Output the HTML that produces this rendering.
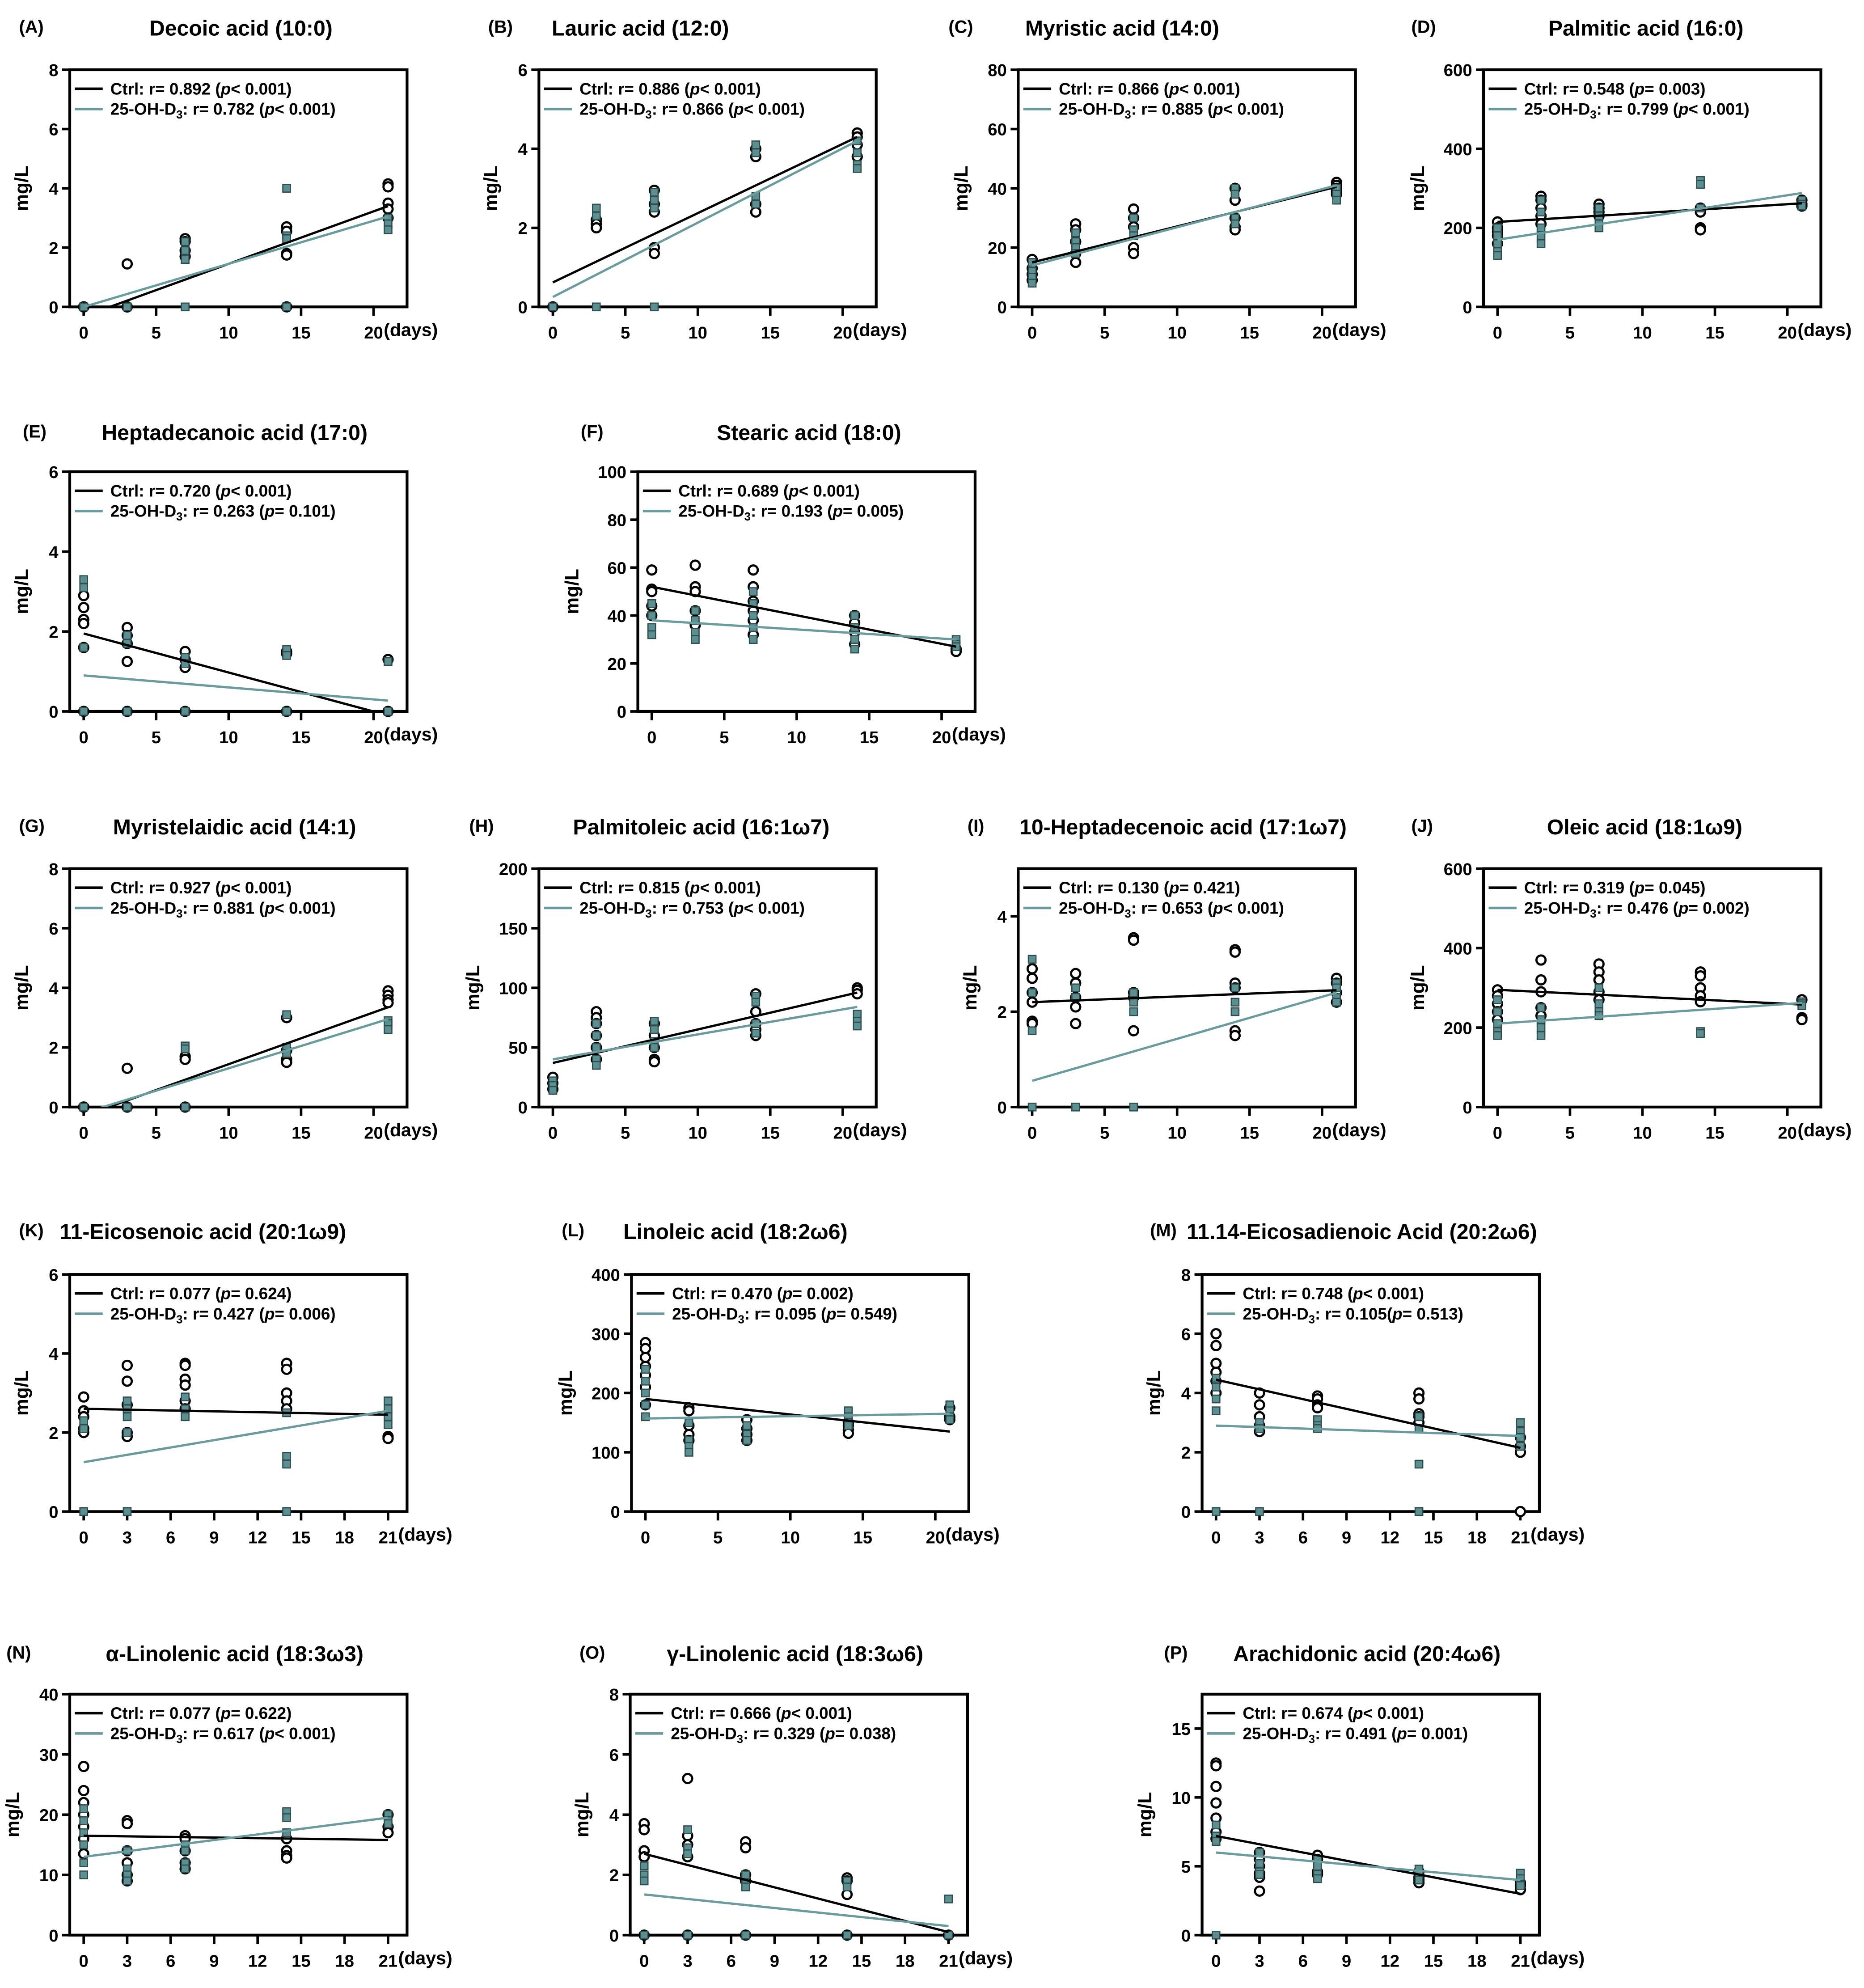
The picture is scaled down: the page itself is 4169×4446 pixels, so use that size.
<!DOCTYPE html>
<html><head><meta charset="utf-8"><style>
html,body{margin:0;padding:0;background:#fff}
svg{display:block}
text{font-family:"Liberation Sans",sans-serif;font-weight:bold;fill:#000}
</style></head><body>
<svg id="fig" xmlns="http://www.w3.org/2000/svg" width="4169" height="4446" viewBox="0 0 1470 1567.7"></svg>
<script>
// ---- data ----
const days = [0, 3, 7, 14, 21];
const panelLetters = ["A","B","C","D","E","F","G","H","I","J","K","L","M","N","O","P"];
const panelTitles = ["Decoic acid (10:0)","Lauric acid (12:0)","Myristic acid (14:0)","Palmitic acid (16:0)","Heptadecanoic acid (17:0)","Stearic acid (18:0)","Myristelaidic acid (14:1)","Palmitoleic acid (16:1ω7)","10-Heptadecenoic acid (17:1ω7)","Oleic acid (18:1ω9)","11-Eicosenoic acid (20:1ω9)","Linoleic acid (18:2ω6)","11.14-Eicosadienoic Acid (20:2ω6)","α-Linolenic acid (18:3ω3)","γ-Linolenic acid (18:3ω6)","Arachidonic acid (20:4ω6)"];
const yMax = [8,6,80,600,6,100,8,200,5,600,6,400,8,40,8,17.5];
const yStep = [2,2,20,200,2,20,2,50,2,200,2,100,2,10,2,5];
const xTickSets = [[0,5,10,15,20],[0,5,10,15,20],[0,5,10,15,20],[0,5,10,15,20],[0,5,10,15,20],[0,5,10,15,20],[0,5,10,15,20],[0,5,10,15,20],[0,5,10,15,20],[0,5,10,15,20],[0,3,6,9,12,15,18,21],[0,5,10,15,20],[0,3,6,9,12,15,18,21],[0,3,6,9,12,15,18,21],[0,3,6,9,12,15,18,21],[0,3,6,9,12,15,18,21]];
const ctrlR = ["0.892","0.886","0.866","0.548","0.720","0.689","0.927","0.815","0.130","0.319","0.077","0.470","0.748","0.077","0.666","0.674"];
const ctrlP = ["< 0.001","< 0.001","< 0.001","= 0.003","< 0.001","< 0.001","< 0.001","< 0.001","= 0.421","= 0.045","= 0.624","= 0.002","< 0.001","= 0.622","< 0.001","< 0.001"];
const trtR = ["0.782","0.866","0.885","0.799","0.263","0.193","0.881","0.753","0.653","0.476","0.427","0.095","0.105","0.617","0.329","0.491"];
const trtP = ["< 0.001","< 0.001","< 0.001","< 0.001","= 0.101","= 0.005","< 0.001","< 0.001","< 0.001","= 0.002","= 0.006","= 0.549","= 0.513","< 0.001","= 0.038","= 0.001"];
// regression line values at day 0 and day 21
const ctrlFit = [[-0.32,3.4],[0.62,4.3],[15,40.5],[215,262],[1.95,-0.1],[52,27],[-0.3,3.35],[37,96],[2.2,2.45],[295,258],[2.6,2.45],[190,135],[4.45,2.15],[16.5,15.8],[2.7,0.1],[7.2,3.0]];
const trtFit = [[0,3.05],[0.25,4.2],[14,41],[170,288],[0.9,0.27],[38,30],[-0.2,2.95],[40,84],[0.55,2.4],[210,262],[1.25,2.55],[157,165],[2.9,2.55],[13,19.5],[1.35,0.3],[6.0,4.0]];
const ctrlVals = [
[[0,0,0,0],[1.45,0,0],[2.3,2.2,1.9,1.7],[2.7,2.55,1.8,1.75,0],[4.15,4.05,3.5,3.3,3.0]],
[[0,0],[2.2,2.1,2.0],[2.95,2.6,2.4,1.5,1.35],[4.0,3.8,2.6,2.4],[4.4,4.3,4.1,3.8]],
[[16,13,11,9],[28,26,22,18,15],[33,30,27,20,18],[40,36,30,27,26],[42,41,40,39,38]],
[[215,200,190,180,160],[280,270,250,230,210],[260,250,240,230],[250,240,200,195],[270,260,255]],
[[2.9,2.6,2.3,2.2,1.6,0],[2.1,1.9,1.7,1.25,0],[1.5,1.3,1.1,0],[1.5,1.45,0],[1.3,0]],
[[59,51,50,44,40],[61,52,50,42,36],[59,52,46,42,38,32],[40,37,33,28],[26,25]],
[[0,0,0],[1.3,0,0],[1.7,1.6,0],[3.0,1.9,1.6,1.5],[3.9,3.75,3.6,3.5]],
[[25,20,15],[80,75,70,60,50,40],[70,60,50,40,38],[95,80,70,65,60],[100,98,95]],
[[2.9,2.7,2.4,2.2,1.8,1.75],[2.8,2.6,2.3,2.1,1.75],[3.55,3.5,2.4,2.3,1.6],[3.3,3.25,2.6,2.5,1.6,1.5],[2.7,2.6,2.4,2.2]],
[[295,280,260,240,220],[370,320,290,250,230],[360,340,320,290,270],[340,330,300,280,265],[270,225,220]],
[[2.9,2.55,2.4,2.1,2.0],[3.7,3.3,2.7,2.0,1.9],[3.75,3.7,3.35,3.2,2.8,2.6],[3.75,3.6,3.0,2.8,2.6],[1.9,1.85]],
[[285,275,260,245,230,210,180],[175,170,145,130,120],[155,140,130,120],[150,145,138,132],[175,160,155]],
[[6.0,5.6,5.0,4.7,4.4,4.0],[4.0,3.6,3.2,2.9,2.7],[3.9,3.8,3.6,3.5],[4.0,3.8,3.3,3.2,3.0],[2.5,2.2,2.0,0]],
[[28,24,22,20,18,16,13.5],[19,18.5,14,12,10,9],[16.5,16,14,12,11],[16,14,13.2,12.8],[20,18,17]],
[[3.7,3.5,2.8,2.6,0],[5.2,3.3,3.0,2.6,0],[3.1,2.9,2.0,1.8,0],[1.9,1.8,1.35,0],[0]],
[[12.5,12.3,10.8,9.6,8.5,7.5,7.0],[6.0,5.5,5.0,4.5,4.2,3.2],[5.8,5.5,4.6,4.4],[4.6,4.2,4.0,3.8],[3.8,3.6,3.3]]
];
const trtVals = [
[[0,0,0],[0,0],[2.2,1.9,1.6,0],[4.0,2.4,2.3,0],[3.0,2.8,2.6]],
[[0,0],[2.5,2.3,0],[2.9,2.7,2.5,0],[4.1,3.9,2.8,2.6],[4.2,3.9,3.6,3.5]],
[[15,12,10,8],[25,22,20,18],[30,26,24],[40,38,30,28],[40,38,36]],
[[200,180,160,140,130],[270,240,200,180,160],[250,230,210,200],[320,310,250],[270,260,255]],
[[3.3,3.1,1.6,0],[1.9,1.7,0],[1.35,1.2,0],[1.55,1.4,0],[1.25,0]],
[[45,40,35,32],[42,38,33,30],[50,45,40,35,30],[40,35,30,26],[30,28,27]],
[[0,0],[0,0],[2.05,1.95,0],[3.1,2.0,1.8],[2.9,2.8,2.6]],
[[22,18,14],[70,60,50,40,35],[72,65,55,50],[93,88,70,62],[78,72,68]],
[[3.1,2.4,1.6,0],[2.5,2.3,0],[2.4,2.2,2.0,0],[2.5,2.2,2.0],[2.6,2.5,2.3,2.2]],
[[270,240,210,190,180],[250,220,200,180],[300,260,240,230],[190,185],[265,260,255]],
[[2.3,2.1,0],[2.8,2.6,2.4,2.0,0],[2.9,2.6,2.4],[2.5,1.4,1.2,0],[2.8,2.6,2.4,2.2]],
[[240,220,200,180,160],[150,120,110,100],[145,130,120],[170,160,150,145],[180,170,160,155]],
[[4.5,4.2,3.8,3.4,0],[3.0,2.8,0],[3.1,2.9,2.8],[3.2,2.8,1.6,0],[3.0,2.7,2.5,2.2]],
[[21,19,17,15,12,10],[14,11,10,9],[15,14,12,11],[20.5,19.5,17],[20,19,18.5]],
[[2.3,2.0,1.8,0],[3.5,2.9,2.7,0],[2.0,1.7,1.6,0],[1.8,1.6,0],[1.2,0]],
[[8.0,7.2,6.8,0],[6.0,5.2,4.6,4.4],[5.5,5.0,4.4,4.1],[4.8,4.4,4.0],[4.5,4.1,3.7,3.6]]
];
// ---- layout ----
const boxLeft = [55,425,803,1170,55,503,55,425,803,1170,55,498,948,55,497,948];
const rowTop = [55,55,55,55,372,372,685,685,685,685,1005,1005,1005,1336,1336,1336];
const rowBot = [242,242,242,242,561,561,873,873,873,873,1192,1192,1192,1526,1526,1526];
const letterX = [15,385,748,1113,18,458,15,370,763,1113,15,443,907,5,457,918];
const titleX = [190,505,885,1298,185,638,185,553,933,1297,160,580,1074,185,627,1078];
const BW = 266, TEAL = "#5b8f91";
const NS = "http://www.w3.org/2000/svg";
const svg = document.getElementById("fig");
function mk(tag, attrs, parent){const e=document.createElementNS(NS,tag);for(const k in attrs)e.setAttribute(k,attrs[k]);(parent||svg).appendChild(e);return e;}

for (let i=0;i<16;i++){
  const x0=boxLeft[i], yT=rowTop[i], yB=rowBot[i];
  const g=mk("g",{});
  
  
  const xs=d=>x0+11+d*11.43;
  const ys=v=>yB-(v/yMax[i])*(yB-yT);
  const tyy = [22,22,22,22,341,341,652,652,652,652,971,971,971,1304,1304,1304][i];
  const lt=mk("text",{x:letterX[i],y:tyy+4,"font-size":14},g); lt.textContent="("+panelLetters[i]+")";
  
  
  const tt=mk("text",{x:titleX[i],y:tyy+6,"font-size":17,"text-anchor":"middle"},g); tt.textContent=panelTitles[i];
  
  
  const cp=mk("clipPath",{id:"c"+i},g); mk("rect",{x:x0,y:yT,width:BW,height:yB-yT},cp);
  const bx=mk("rect",{x:x0,y:yT,width:BW,height:yB-yT,fill:"none",stroke:"#000","stroke-width":2.2},g);
  
  
  let maxDigits=1;
  for(let v=0; v<=yMax[i]+1e-9; v+=yStep[i]){
    const y=ys(v);
    maxDigits=Math.max(maxDigits,String(v).length);
    mk("line",{x1:x0-6,x2:x0,y1:y,y2:y,stroke:"#000","stroke-width":2},g);
    const t=mk("text",{x:x0-9,y:y+5,"font-size":13.5,"text-anchor":"end"},g); t.textContent=v;
    
    
  }
  const xt=xTickSets[i];
  xt.forEach((d,k)=>{
    const x=xs(d);
    mk("line",{x1:x,x2:x,y1:yB,y2:yB+7,stroke:"#000","stroke-width":2},g);
    const t=mk("text",{x:x,y:yB+25,"font-size":13.5,"text-anchor":"middle"},g); t.textContent=d;
    
    
    if(k===xt.length-1){
      const u=mk("text",{x:x+8,y:yB+23,"font-size":14.5},g); u.textContent="(days)";
      
      
    }
  });
  const yoff = 26 + 7*maxDigits;
  const yl=mk("text",{x:0,y:0,"font-size":15,"text-anchor":"middle",transform:`translate(${x0-yoff},${(yT+yB)/2}) rotate(-90)`},g);
  yl.textContent="mg/L";
  
  
  const pg=mk("g",{},g);
  ctrlVals[i].forEach((arr,di)=>arr.forEach(v=>{
    const c=mk("circle",{cx:xs(days[di]),cy:ys(v),r:3.6,fill:"#fff",stroke:"#000","stroke-width":1.7},pg);
    
    
  }));
  trtVals[i].forEach((arr,di)=>arr.forEach(v=>{
    const s=mk("rect",{x:xs(days[di])-3,y:ys(v)-3,width:6,height:6,fill:TEAL,stroke:"#2f4c4d","stroke-width":0.9},pg);
    
    
  }));
  const lg=mk("g",{"clip-path":`url(#c${i})`},g);
  const l1=mk("line",{x1:xs(0),y1:ys(ctrlFit[i][0]),x2:xs(21),y2:ys(ctrlFit[i][1]),stroke:"#000","stroke-width":1.8},lg);
  
  
  const l2=mk("line",{x1:xs(0),y1:ys(trtFit[i][0]),x2:xs(21),y2:ys(trtFit[i][1]),stroke:"#6a9c9e","stroke-width":1.8},lg);
  
  
  const lx=x0+4, ly1=yT+15, ly2=yT+31;
  const le1=mk("g",{},g);
  
  
  mk("line",{x1:lx,x2:lx+22,y1:ly1,y2:ly1,stroke:"#000","stroke-width":2},le1);
  const t1=mk("text",{x:lx+28,y:ly1+4.5,"font-size":13},le1);
  t1.innerHTML=`Ctrl: r= ${ctrlR[i]} (<tspan font-style="italic">p</tspan>${ctrlP[i]})`;
  const le2=mk("g",{},g);
  
  
  mk("line",{x1:lx,x2:lx+22,y1:ly2,y2:ly2,stroke:"#6a9c9e","stroke-width":2},le2);
  const t2=mk("text",{x:lx+28,y:ly2+4.5,"font-size":13},le2);
  t2.innerHTML=`25-OH-D<tspan font-size="9" dy="3">3</tspan><tspan dy="-3">: r= ${trtR[i]}${i===12?"":" "}(</tspan><tspan font-style="italic">p</tspan>${trtP[i]})`;
}
</script>
</body></html>
